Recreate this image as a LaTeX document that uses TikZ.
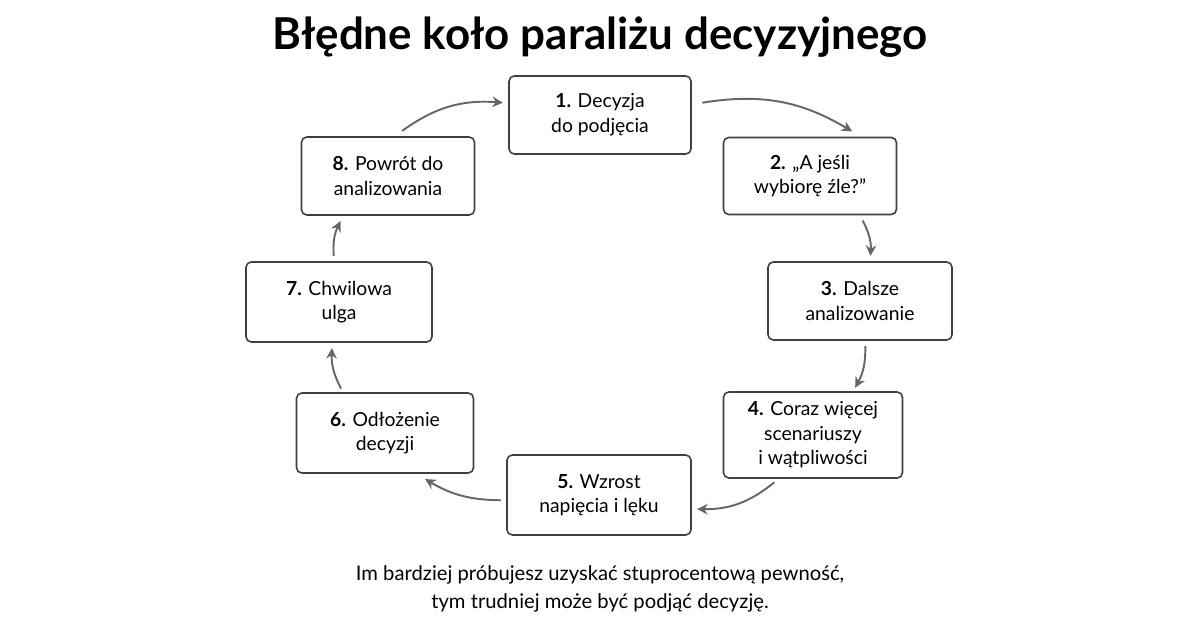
\documentclass[tikz,border=0pt]{standalone}
\usepackage{fontspec}
\setmainfont{Lato}
\usetikzlibrary{arrows.meta}
\begin{document}
\begin{tikzpicture}[x=0.02cm,y=-0.02cm,
	krok/.style={draw=black!75,line width=0.9pt,rounded corners=3pt,fill=white,align=center,font=\fontsize{11}{14}\selectfont,inner sep=2pt},
	strzalka/.style={-{Stealth[length=6pt,width=6pt]},draw=black!60,line width=1.1pt}]
	
	\useasboundingbox (0,0) rectangle (1200,628);
	
	% title
	\node (tytul) at (600,37) {\fontsize{25}{30}\selectfont\bfseries Błędne koło paraliżu decyzyjnego};
	
	% steps
	\node[krok,minimum width=182*0.02cm,minimum height=78*0.02cm] (k1) at (600,115) {\textbf{1.} Decyzja\\do podjęcia};
	\node[krok,minimum width=173*0.02cm,minimum height=77*0.02cm] (k2) at (810,176) {\textbf{2.} „A jeśli\\wybiorę źle?”};
	\node[krok,minimum width=184*0.02cm,minimum height=78*0.02cm] (k3) at (860,301) {\textbf{3.} Dalsze\\analizowanie};
	\node[krok,minimum width=179*0.02cm,minimum height=86*0.02cm] (k4) at (813,435) {\textbf{4.} Coraz więcej\\scenariuszy\\i wątpliwości};
	\node[krok,minimum width=184*0.02cm,minimum height=80*0.02cm] (k5) at (599,495) {\textbf{5.} Wzrost\\napięcia i lęku};
	\node[krok,minimum width=177*0.02cm,minimum height=80*0.02cm] (k6) at (385,433) {\textbf{6.} Odłożenie\\decyzji};
	\node[krok,minimum width=186*0.02cm,minimum height=80*0.02cm] (k7) at (339,302) {\textbf{7.} Chwilowa\\ulga};
	\node[krok,minimum width=173*0.02cm,minimum height=78*0.02cm] (k8) at (388,176) {\textbf{8.} Powrót do\\analizowania};
	
	% cycle
	\draw[strzalka] ([xshift=6pt,yshift=7pt]k1.east) to[bend left=20] ([xshift=24pt,yshift=3pt]k2.north);
	\draw[strzalka] ([xshift=30pt,yshift=-3pt]k2.south) to[bend left=15] ([xshift=6pt,yshift=3pt]k3.north);
	\draw[strzalka] ([xshift=3pt,yshift=-3pt]k3.south) to[bend left=15] ([xshift=24pt,yshift=2pt]k4.north);
	\draw[strzalka] ([xshift=-22pt,yshift=-2pt]k4.south) to[bend left=20] ([xshift=3pt,yshift=-8pt]k5.east);
	\draw[strzalka] ([xshift=-3pt,yshift=-3pt]k5.west) to[bend left=15] ([xshift=-28pt,yshift=-3pt]k6.south east);
	\draw[strzalka] ([xshift=-25pt,yshift=2pt]k6.north) to[bend left=15] ([xshift=-4pt,yshift=-3pt]k7.south);
	\draw[strzalka] ([xshift=-3pt,yshift=3pt]k7.north) to[bend left=15] ([xshift=-27pt,yshift=-3pt]k8.south);
	\draw[strzalka] ([xshift=8pt,yshift=3pt]k8.north) to[bend left=20] ([xshift=-3pt,yshift=7pt]k1.west);
	
	% caption
	\node[align=center,font=\fontsize{11.5}{16}\selectfont] (opis) at (600,589) {Im bardziej próbujesz uzyskać stuprocentową pewność,\\tym trudniej może być podjąć decyzję.};
	
\end{tikzpicture}
\end{document}
